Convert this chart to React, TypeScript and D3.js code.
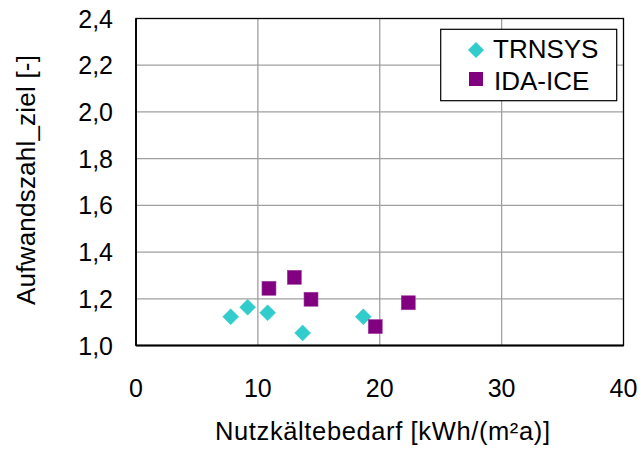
import React from "react";
import * as d3 from "d3";

const trnsysX = [7.77, 9.16, 10.8, 13.67, 18.65];
const trnsysY = [1.123, 1.164, 1.14, 1.054, 1.123];
const idaX = [10.91, 12.99, 14.36, 19.63, 22.34];
const idaY = [1.245, 1.292, 1.198, 1.081, 1.183];
const xTicks = [0, 10, 20, 30, 40];
const yTicks = [1.0, 1.2, 1.4, 1.6, 1.8, 2.0, 2.2, 2.4];
const seriesNames = ["TRNSYS", "IDA-ICE"];
const xTitle = "Nutzkältebedarf [kWh/(m²a)]";
const yTitle = "Aufwandszahl_ziel [-]";

const W = 641, H = 450;
const L = 136, R = 623.5, T = 18.5, B = 345.5;
const TEAL = "#33CCCC";
const PURPLE = "#800080";
const FONT = "Liberation Sans, Arial, sans-serif";

export default function App() {
  const x = d3.scaleLinear().domain([0, 40]).range([L, R]);
  const y = d3.scaleLinear().domain([1.0, 2.4]).range([B, T]);
  const fmt = (v: number) => d3.format(".1f")(v).replace(".", ",");
  const diamond = (cx: number, cy: number, r: number) =>
    `M${cx},${cy - r}L${cx + r},${cy}L${cx},${cy + r}L${cx - r},${cy}Z`;

  return (
    <svg width={W} height={H} style={{ position: "absolute", left: 0, top: 0, background: "#fff" }} fontFamily={FONT}>
      <rect x={0} y={0} width={W} height={H} fill="#fff" />
      {/* gridlines */}
      {xTicks.slice(1, -1).map((t) => (
        <line key={"gx" + t} x1={x(t)} x2={x(t)} y1={T} y2={B} stroke="#a0a0a0" strokeWidth={1.3} />
      ))}
      {yTicks.slice(1, -1).map((t) => (
        <line key={"gy" + t} x1={L} x2={R} y1={y(t)} y2={y(t)} stroke="#a0a0a0" strokeWidth={1.3} />
      ))}
      {/* frame */}
      <rect x={L} y={T} width={R - L} height={B - T} fill="none" stroke="#000" strokeWidth={1.3} />
      <line x1={L} x2={R} y1={B} y2={B} stroke="#000" strokeWidth={2.2} />
      <line x1={L} x2={L} y1={T} y2={B} stroke="#000" strokeWidth={1.8} />
      {/* y tick labels */}
      {yTicks.map((t) => (
        <text key={"yl" + t} x={113} y={y(t)} dy="0.36em" textAnchor="end" fontSize={25}>
          {fmt(t)}
        </text>
      ))}
      {/* x tick labels */}
      {xTicks.map((t) => (
        <text key={"xl" + t} x={x(t)} y={397} textAnchor="middle" fontSize={25}>
          {t}
        </text>
      ))}
      {/* titles */}
      <text x={382.5} y={440} textAnchor="middle" fontSize={25.5} textLength={335} lengthAdjust="spacing">
        {xTitle}
      </text>
      <text
        transform={`translate(34.5, 180) rotate(-90)`}
        textAnchor="middle"
        fontSize={26}
        textLength={250}
        lengthAdjust="spacing"
      >
        {yTitle}
      </text>
      {/* data */}
      {trnsysX.map((v, i) => (
        <path key={"t" + i} d={diamond(x(v), y(trnsysY[i]), 8)} fill={TEAL} stroke={TEAL} strokeWidth={0.5} />
      ))}
      {idaX.map((v, i) => (
        <rect key={"i" + i} x={x(v) - 7} y={y(idaY[i]) - 7} width={14} height={14} fill={PURPLE} stroke="#a040a0" strokeWidth={0.6} />
      ))}
      {/* legend */}
      <rect x={440.7} y={29.3} width={176} height={71.4} fill="#fff" stroke="#000" strokeWidth={1.2} />
      <path d={diamond(476, 50, 8)} fill={TEAL} />
      <text x={493} y={58} fontSize={26}>{seriesNames[0]}</text>
      <rect x={469} y={72} width={14} height={14} fill={PURPLE} />
      <text x={494} y={89.5} fontSize={26}>{seriesNames[1]}</text>
    </svg>
  );
}
